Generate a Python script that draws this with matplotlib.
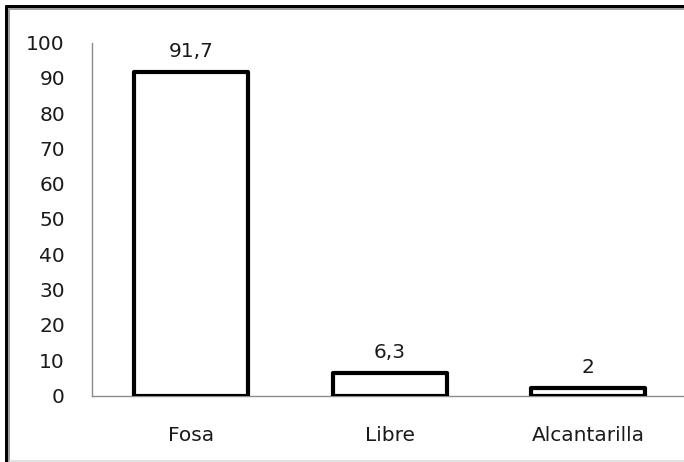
import matplotlib
matplotlib.use("Agg")
import matplotlib.pyplot as plt
from matplotlib.lines import Line2D

categories = ["Fosa", "Libre", "Alcantarilla"]
values = [91.7, 6.3, 2]
value_labels = ["91,7", "6,3", "2"]
y_ticks = [0, 10, 20, 30, 40, 50, 60, 70, 80, 90, 100]

W, H = 684, 462
fig = plt.figure(figsize=(W / 100, H / 100), dpi=100)
fig.patch.set_facecolor("white")

ax = fig.add_axes([92 / W, 1 - 395.5 / H, 595.5 / W, 353 / H])
x = range(len(categories))
ax.bar(x, values, width=0.575, facecolor="white", edgecolor="black",
       linewidth=3.0, joinstyle="round", zorder=3)

ax.set_xlim(-0.5, 2.5)
ax.set_ylim(0, 100)
ax.set_yticks(y_ticks)
ax.set_xticks(list(x))
ax.set_xticklabels(categories)

for s in ["top", "right"]:
    ax.spines[s].set_visible(False)
for s in ["left", "bottom"]:
    ax.spines[s].set_color("#8c8c8c")
    ax.spines[s].set_linewidth(1.0)
ax.tick_params(axis="both", length=0, labelsize=14.5, colors="#1a1a1a")
ax.tick_params(axis="y", pad=19.5)
ax.tick_params(axis="x", pad=22)
for lbl in ax.get_yticklabels():
    lbl.set_horizontalalignment("right")

for xi, v, t in zip(x, values, value_labels):
    ax.annotate(t, (xi, v), xytext=(0, 8), textcoords="offset points",
                ha="center", va="bottom", fontsize=14.5, color="#1a1a1a")

# frame around the chart area
def px_line(x0, y0, x1, y1, color, lw):
    fig.add_artist(Line2D([x0 / W, x1 / W], [1 - y0 / H, 1 - y1 / H],
                          transform=fig.transFigure, color=color,
                          linewidth=lw * 0.72, solid_capstyle="butt"))

px_line(6, 5, 6, H, "black", 3)
px_line(5, 6, W, 6, "black", 3)
px_line(9, 8, 9, H, "#a0a0a0", 2)
px_line(8, 9, W, 9, "#a0a0a0", 2)
px_line(9, 461, W, 461, "#d8d8d8", 1.5)

fig.savefig("out.png", dpi=100, facecolor="white")
